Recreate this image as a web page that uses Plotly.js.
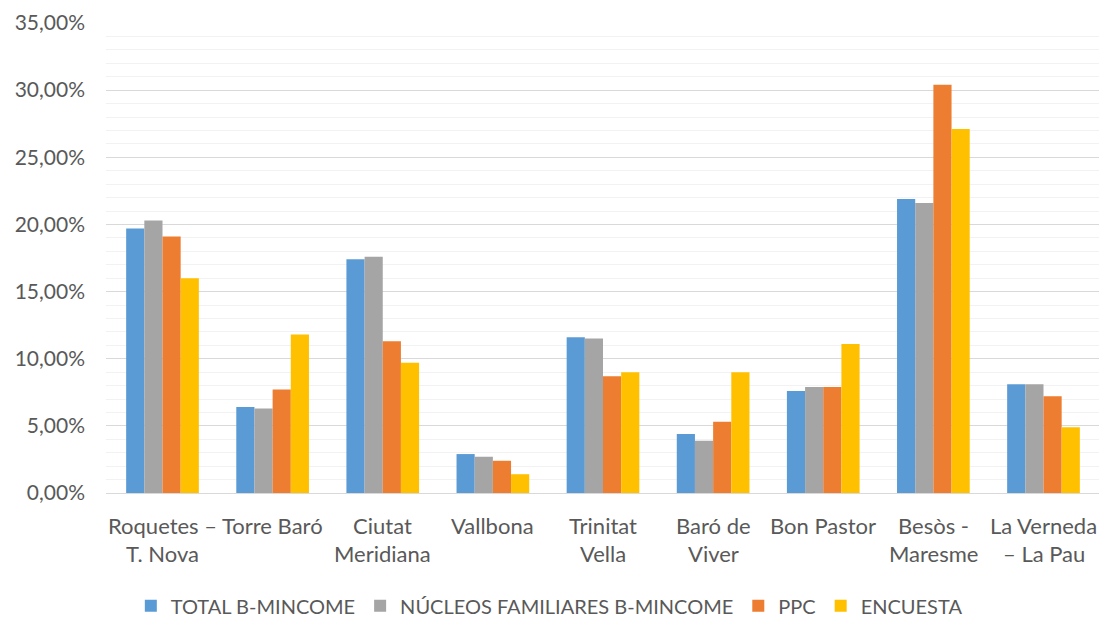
<!DOCTYPE html>
<html>
<head>
<meta charset="utf-8">
<script src="https://cdn.plot.ly/plotly-3.0.1.min.js"></script>
<style>html,body{margin:0;padding:0;background:#fff;}#chart{width:1101px;height:617px;}</style>
</head>
<body>
<div id="chart"></div>
<script>
const categories = ["Roquetes – T. Nova","Torre Baró","Ciutat Meridiana","Vallbona","Trinitat Vella","Baró de Viver","Bon Pastor","Besòs - Maresme","La Verneda – La Pau"];
const labelLines = [["Roquetes –","T. Nova"],["Torre Baró"],["Ciutat","Meridiana"],["Vallbona"],["Trinitat","Vella"],["Baró de","Viver"],["Bon Pastor"],["Besòs -","Maresme"],["La Verneda","– La Pau"]];
const seriesNames = ["TOTAL B-MINCOME","NÚCLEOS FAMILIARES B-MINCOME","PPC","ENCUESTA"];
const totalBMincome = [19.7, 6.4, 17.4, 2.9, 11.6, 4.4, 7.6, 21.9, 8.1];
const nucleosBMincome = [20.3, 6.3, 17.6, 2.7, 11.5, 3.9, 7.9, 21.6, 8.1];
const ppc = [19.1, 7.7, 11.3, 2.4, 8.7, 5.3, 7.9, 30.4, 7.2];
const encuesta = [16.0, 11.8, 9.7, 1.4, 9.0, 9.0, 11.1, 27.1, 4.9];
const seriesValues = [totalBMincome, nucleosBMincome, ppc, encuesta];
const colors = ["#5B9BD5","#A5A5A5","#ED7D31","#FFC000"];

const FONT = "Lato, 'Open Sans', sans-serif";

const traces = seriesNames.map((n,i)=>({
  type:'bar', name:n, x:categories, y:seriesValues[i],
  marker:{color:colors[i], line:{width:0}},
  hoverinfo:'skip'
}));

const annotations = [];
labelLines.forEach((lines,i)=>{
  lines.forEach((t,j)=>{
    annotations.push({x:categories[i], xref:'x', y:0, yref:'paper', yanchor:'middle', xanchor:'center',
      yshift:-32 - 28*j, text:t, showarrow:false, font:{family:FONT, size:22, color:'#595959'}});
  });
});

const layout = {
  width:1101, height:617,
  margin:{l:106, r:2, t:23, b:124, autoexpand:false},
  paper_bgcolor:'#fff', plot_bgcolor:'#fff',
  barmode:'group', bargap:0.34, bargroupgap:0,
  separators:', ',
  font:{family:FONT, color:'#595959'},
  xaxis:{type:'category', showticklabels:false, showgrid:false, showline:false, zeroline:false, ticks:''},
  yaxis:{range:[0,35], dtick:5, tickformat:'.2f', ticksuffix:'%', gridcolor:'#d9d9d9', gridwidth:1,
    zeroline:true, zerolinecolor:'#d9d9d9', zerolinewidth:1, showline:false,
    tickfont:{family:FONT, size:21, color:'#595959'}, ticklabelstandoff:20,
    minor:{dtick:1, showgrid:true, gridcolor:'#f2f2f2', gridwidth:1}},
  showlegend:true,
  legend:{orientation:'h', x:0.025, xanchor:'left', y:-0.24, yanchor:'middle', maxheight:1,
    font:{family:FONT, size:20, color:'#595959'}, itemwidth:30, traceorder:'normal'},
  annotations:annotations
};
Plotly.newPlot('chart', traces, layout, {displayModeBar:false, staticPlot:true});
</script>
</body>
</html>
